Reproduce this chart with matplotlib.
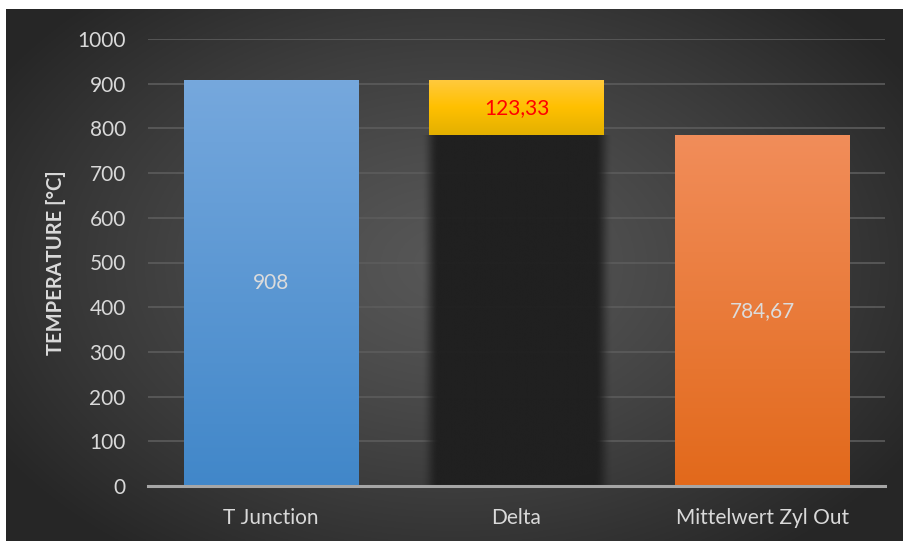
import numpy as np
import matplotlib
matplotlib.use("Agg")
import matplotlib.pyplot as plt
from matplotlib.colors import LinearSegmentedColormap

# temperature values for the three columns
categories = ["T Junction", "Delta", "Mittelwert Zyl Out"]
t_junction = 908
zyl_out = 784.67
delta = 123.33
yticks = [0, 100, 200, 300, 400, 500, 600, 700, 800, 900, 1000]

plt.rcParams['font.family'] = ['Lato', 'DejaVu Sans']

fig = plt.figure(figsize=(9.04, 5.41), dpi=100)
fig.patch.set_facecolor('white')

# dark radial background
bg = fig.add_axes([6 / 904, 0, 898 / 904, 532 / 541])
bg.set_axis_off()
yy, xx = np.mgrid[0:1:300j, 0:1:500j]
r = np.sqrt(((xx - 0.5) / 0.75) ** 2 + ((yy - 0.48) / 0.85) ** 2)
r = np.clip(r / 0.8, 0, 1)
shade = 0.34 - 0.19 * r ** 1.3
bg.imshow(np.dstack([shade] * 3), extent=[0, 1, 0, 1], aspect='auto')
bg.set_xlim(0, 1)
bg.set_ylim(0, 1)

ax = fig.add_axes([148 / 904, (541 - 486) / 541, (885 - 148) / 904, (486 - 39) / 541])
ax.set_facecolor('none')
ax.set_xlim(-0.5, 2.5)
ax.set_ylim(0, 1000)

x = np.arange(len(categories))
width = 0.71


def gradient_fill(patch, colors):
    cmap = LinearSegmentedColormap.from_list('g', colors)
    x0, y0 = patch.get_x(), patch.get_y()
    w, h = patch.get_width(), patch.get_height()
    grad = np.linspace(0, 1, 256).reshape(-1, 1)
    im = ax.imshow(grad, cmap=cmap, origin='lower', aspect='auto',
                   extent=[x0, x0 + w, y0, y0 + h], zorder=patch.get_zorder())
    im.set_clip_path(patch)
    patch.set_facecolor('none')


# soft dark column under the delta segment
pad = 0.06
ext = [x[1] - width / 2 - pad, x[1] + width / 2 + pad, 0, zyl_out]
xs = np.linspace(ext[0], ext[1], 400)
d = np.minimum(xs - (x[1] - width / 2), (x[1] + width / 2) - xs)
alpha = np.clip((d + 0.035) / 0.07, 0, 1)
alpha = alpha * alpha * (3 - 2 * alpha)
shadow = np.zeros((2, len(xs), 4))
shadow[..., :3] = 0x1f / 255
shadow[..., 3] = alpha * 0.97
ax.imshow(shadow, extent=ext, aspect='auto', zorder=2)

b1 = ax.bar(x[0], t_junction, width=width, zorder=3)[0]
gradient_fill(b1, ['#4187c9', '#76a8dd'])
b2 = ax.bar(x[1], delta, bottom=zyl_out, width=width, zorder=3)[0]
gradient_fill(b2, ['#e3b000', '#ffc000', '#ffca40'])
b3 = ax.bar(x[2], zyl_out, width=width, zorder=3)[0]
gradient_fill(b3, ['#e2691b', '#f18d5a'])

ax.set_xlim(-0.5, 2.5)
ax.set_ylim(0, 1000)

# value labels
fmt = lambda v: ('%g' % round(v, 2)).replace('.', ',')
ax.text(x[0], t_junction / 2, fmt(t_junction), ha='center', va='center',
        color='#dcdcdc', fontsize=15, zorder=5)
ax.text(x[1], zyl_out + delta / 2, fmt(delta), ha='center', va='center',
        color='#ff0000', fontsize=15, zorder=5)
ax.text(x[2], zyl_out / 2, fmt(zyl_out), ha='center', va='center',
        color='#dcdcdc', fontsize=15, zorder=5)

ax.set_yticks(yticks)
ax.set_yticklabels([str(t) for t in yticks])
ax.set_xticks(x)
ax.set_xticklabels(categories)
ax.grid(axis='y', color='#5c5c5c', linewidth=1.2, zorder=0)
ax.set_axisbelow(True)
ax.tick_params(axis='both', length=0, colors='#d9d9d9', labelsize=15)
ax.tick_params(axis='x', pad=16)
ax.tick_params(axis='y', pad=16)
for side in ['top', 'right', 'left']:
    ax.spines[side].set_visible(False)
ax.spines['bottom'].set_color('#a6a6a6')
ax.spines['bottom'].set_linewidth(2.2)
ax.spines['bottom'].set_zorder(4)

ax.set_ylabel('TEMPERATURE [°C]', color='#d9d9d9', fontsize=14.5,
              fontweight='bold', labelpad=8)

fig.savefig('out.png', dpi=100, facecolor=fig.get_facecolor())
